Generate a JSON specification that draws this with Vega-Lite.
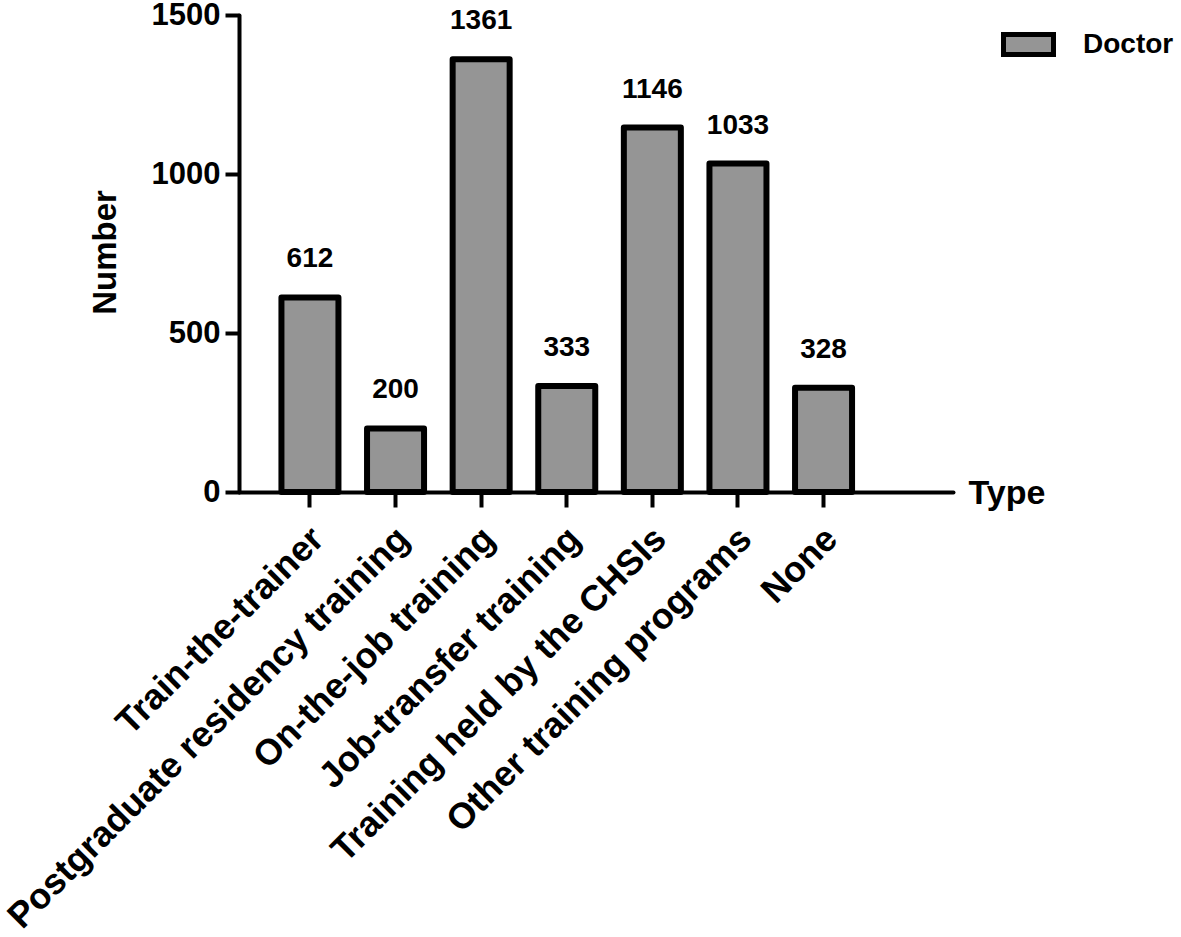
{
  "$schema": "https://vega.github.io/schema/vega-lite/v6.json",
  "width": 714,
  "height": 477,
  "autosize": {"type": "none"},
  "padding": {"left": 239, "top": 15, "right": 228, "bottom": 445},
  "background": "white",
  "config": {"view": {"stroke": null}, "font": "Liberation Sans"},
  "data": {
    "values": [
      {"type": "Train-the-trainer", "number": 612, "group": "Doctor"},
      {"type": "Postgraduate residency training", "number": 200, "group": "Doctor"},
      {"type": "On-the-job training", "number": 1361, "group": "Doctor"},
      {"type": "Job-transfer training", "number": 333, "group": "Doctor"},
      {"type": "Training held by the CHSIs", "number": 1146, "group": "Doctor"},
      {"type": "Other training programs", "number": 1033, "group": "Doctor"},
      {"type": "None", "number": 328, "group": "Doctor"}
    ]
  },
  "encoding": {
    "x": {
      "field": "type",
      "type": "nominal",
      "sort": null,
      "scale": {"paddingInner": 0.334, "paddingOuter": 0.8375, "align": 0.296},
      "axis": {
        "title": "Type",
        "titleX": 729,
        "titleY": 11,
        "titleAlign": "left",
        "titleAnchor": "start",
        "titleBaseline": "alphabetic",
        "titleFontSize": 34,
        "titleFontWeight": "bold",
        "titleColor": "black",
        "labelAngle": -45,
        "labelAlign": "right",
        "labelBaseline": "middle",
        "labelFontSize": 36,
        "labelFontWeight": "bold",
        "labelColor": "black",
        "labelPadding": 26,
        "labelOffset": 8,
        "labelLimit": 0,
        "tickSize": 15,
        "tickWidth": 4,
        "tickColor": "black",
        "domainColor": "black",
        "domainWidth": 4,
        "domainCap": "round"
      }
    },
    "y": {
      "field": "number",
      "type": "quantitative",
      "scale": {"domain": [0, 1500], "nice": false},
      "axis": {
        "title": "Number",
        "titleX": -124,
        "titleY": 237,
        "titleBaseline": "alphabetic",
        "titleFontSize": 33,
        "titleFontWeight": "bold",
        "titleColor": "black",
        "values": [0, 500, 1000, 1500],
        "format": "d",
        "labelFontSize": 31,
        "labelFontWeight": "bold",
        "labelColor": "black",
        "labelPadding": 5,
        "tickSize": 14,
        "tickWidth": 4,
        "tickColor": "black",
        "domainColor": "black",
        "domainWidth": 4,
        "domainCap": "round",
        "grid": false
      }
    }
  },
  "layer": [
    {
      "mark": {"type": "bar", "stroke": "black", "strokeWidth": 6, "strokeJoin": "round"},
      "encoding": {
        "fill": {
          "field": "group",
          "type": "nominal",
          "scale": {"range": ["#959595"]},
          "legend": {
            "orient": "none",
            "legendX": 762,
            "legendY": 2,
            "title": null,
            "padding": 0,
            "symbolType": "M-1,-0.4H1V0.4H-1Z",
            "symbolSize": 2500,
            "symbolStrokeWidth": 5,
            "symbolStrokeColor": "black",
            "symbolOpacity": 1,
            "labelFontSize": 28,
            "labelFontWeight": "bold",
            "labelColor": "black",
            "labelOffset": 27
          }
        }
      }
    },
    {
      "mark": {"type": "text", "dy": -30, "baseline": "alphabetic", "fontSize": 28, "fontWeight": "bold", "color": "black"},
      "encoding": {"text": {"field": "number", "type": "quantitative"}}
    }
  ]
}
